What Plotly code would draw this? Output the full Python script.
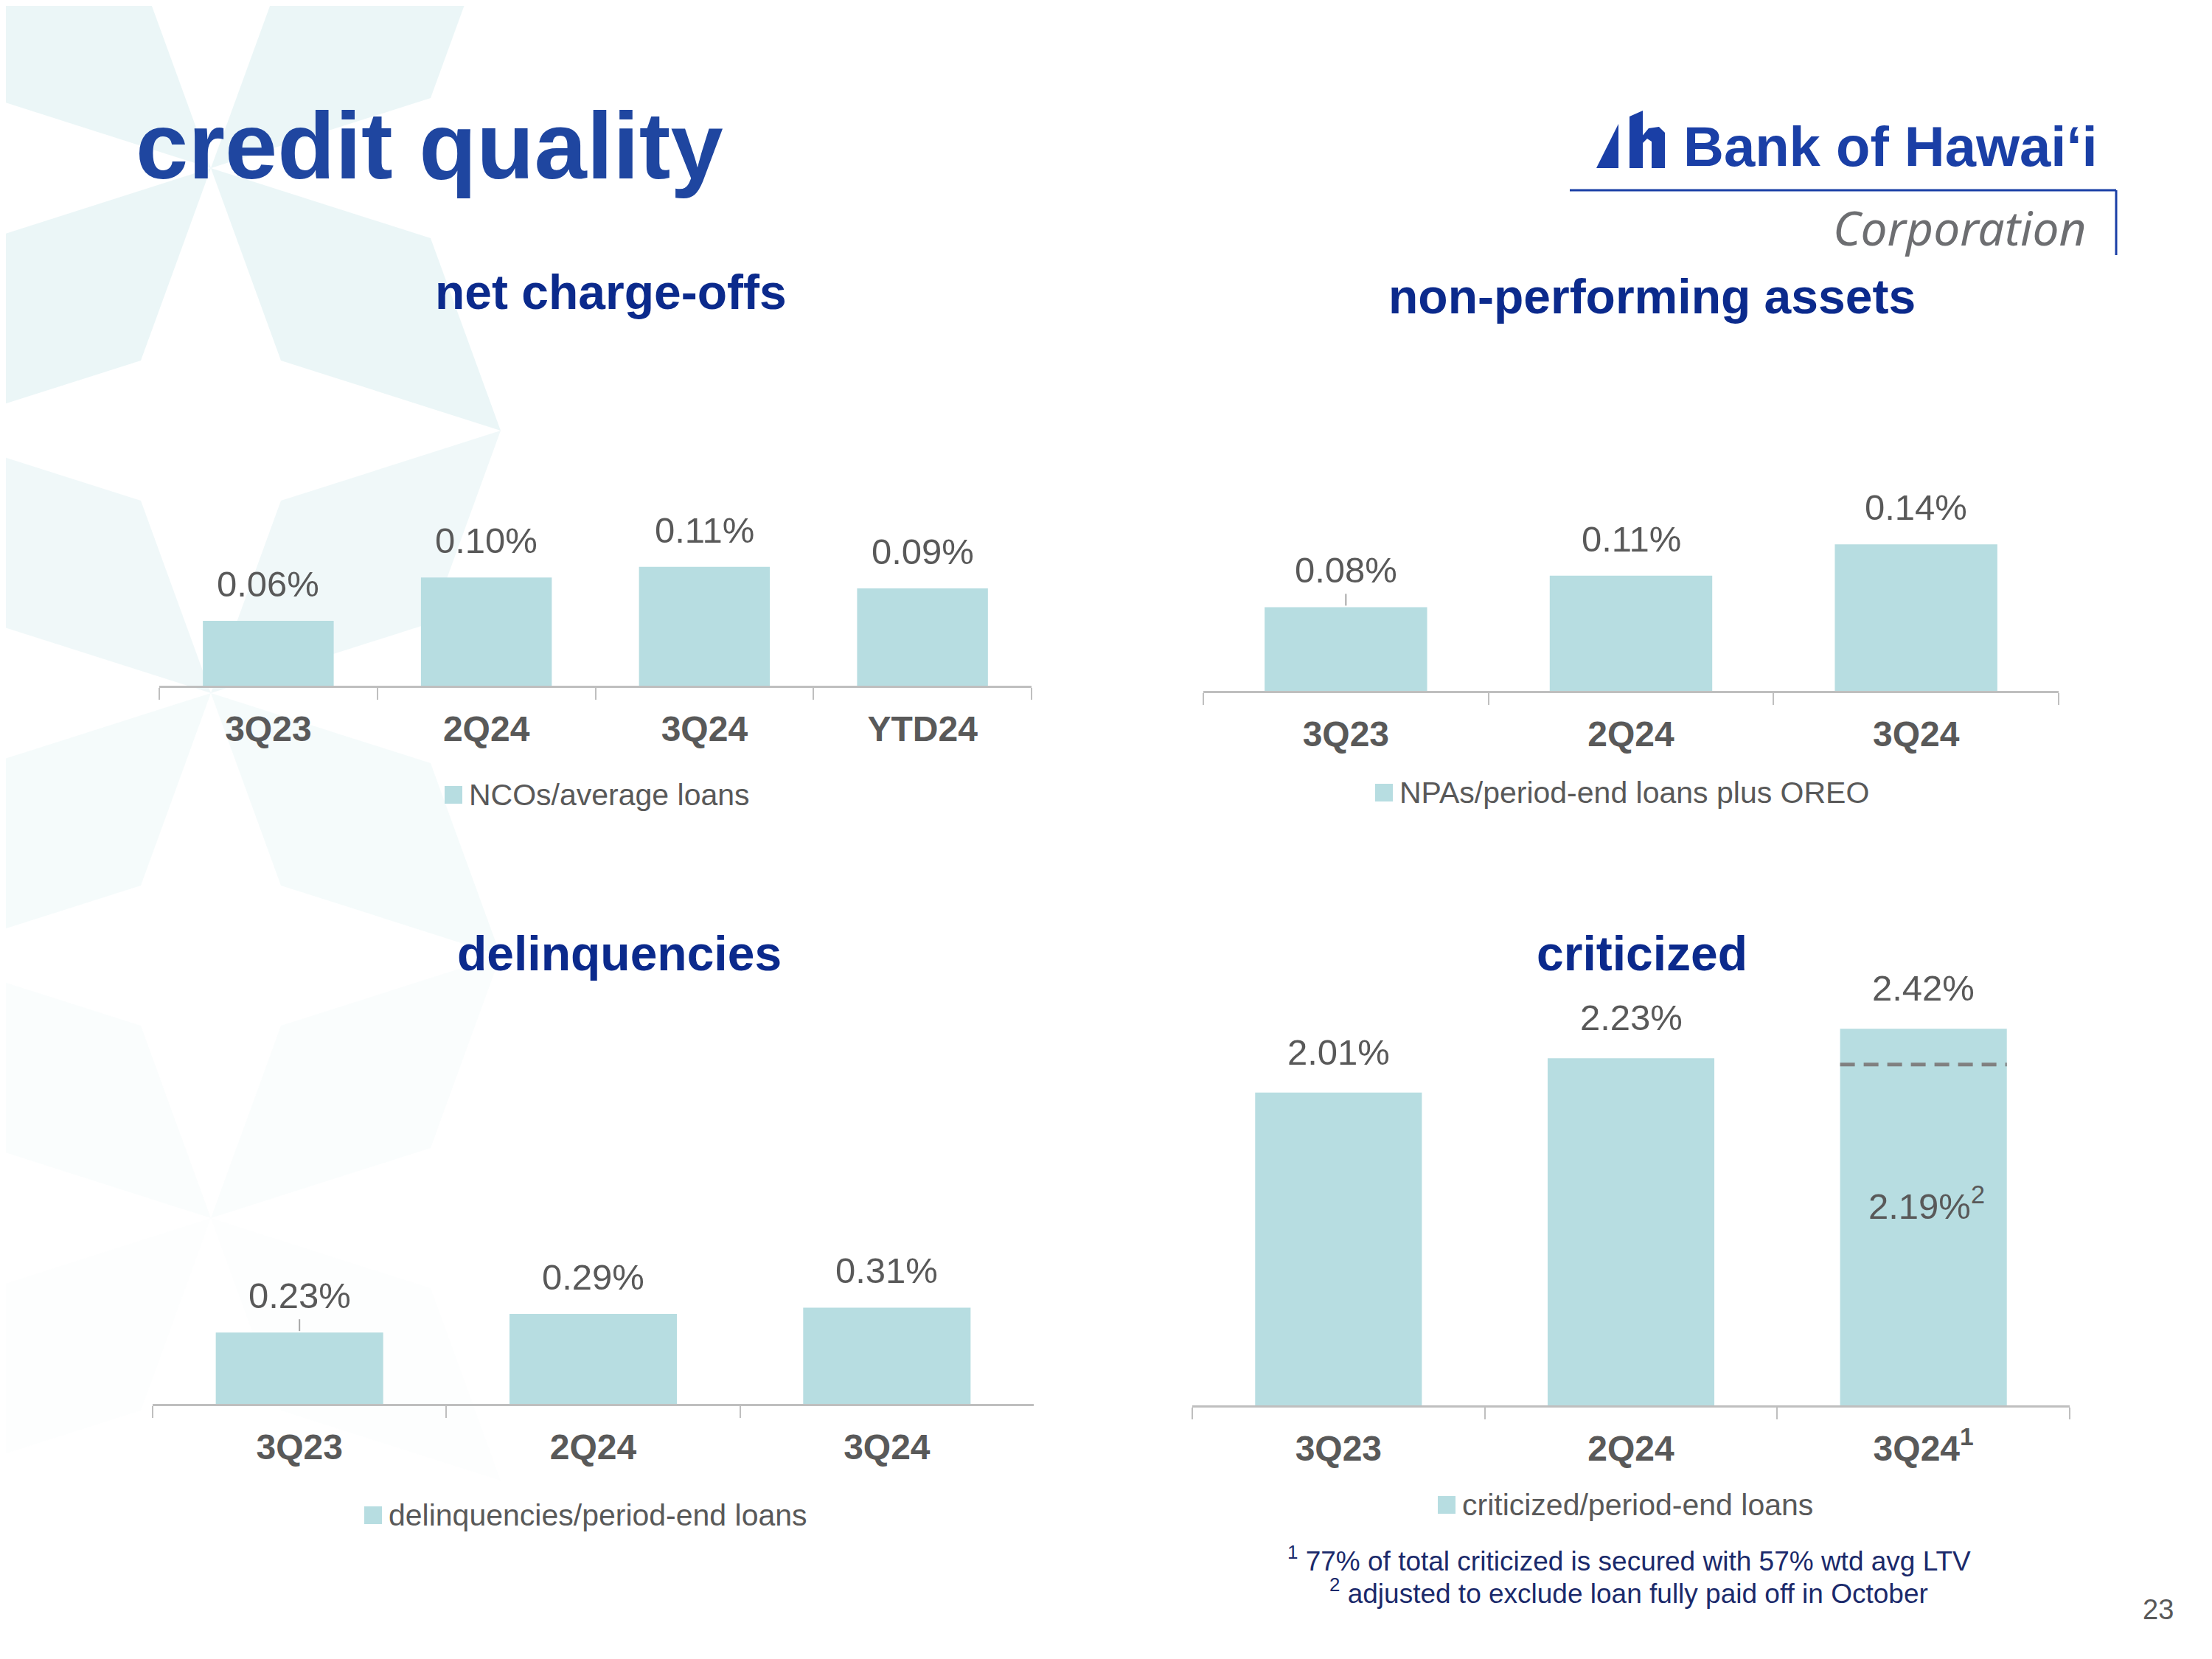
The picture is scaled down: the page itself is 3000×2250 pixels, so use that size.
import plotly.graph_objects as go

# The page adds an 8px body margin, so the figure is 8px smaller than the window
OFF = 8
W, H = 3000 - OFF, 2250 - OFF

# ---------------- data ----------------
nco_categories = ["3Q23", "2Q24", "3Q24", "YTD24"]
nco_values = [0.06, 0.10, 0.11, 0.09]
nco_legend = "NCOs/average loans"

npa_categories = ["3Q23", "2Q24", "3Q24"]
npa_values = [0.08, 0.11, 0.14]
npa_legend = "NPAs/period-end loans plus OREO"

delinq_categories = ["3Q23", "2Q24", "3Q24"]
delinq_values = [0.23, 0.29, 0.31]
delinq_legend = "delinquencies/period-end loans"

crit_categories = ["3Q23", "2Q24", "3Q24"]
crit_tick_labels = ["3Q23", "2Q24", "3Q24<sup>1</sup>"]
crit_values = [2.01, 2.23, 2.42]
crit_adjusted_value = 2.19
crit_adjusted_category = "3Q24"
crit_legend = "criticized/period-end loans"

panel_titles = ["net charge-offs", "non-performing assets", "delinquencies", "criticized"]
page_title = "credit quality"
footnote_1 = "<sup>1</sup> 77% of total criticized is secured with 57% wtd avg LTV"
footnote_2 = "<sup>2</sup> adjusted to exclude loan fully paid off in October"
page_number = "23"

# ---------------- styles ----------------
FONT = "Liberation Sans, Arial, sans-serif"
BAR = "#B7DDE1"
GREY_TXT = "#595959"
AXIS_GREY = "#BFBFBF"
NAVY = "#0B2A8C"
TITLE_BLUE = "#1F46A0"
LOGO_BLUE = "#1A3FA6"
FOOT_NAVY = "#1B2A6B"


def px(x):
    return (x - OFF) / W


def py(y):
    return 1 - (y - OFF) / H


# pixel layout (window coordinates) of each panel
panels = [
    dict(cats=nco_categories, vals=nco_values, name=nco_legend, ticktext=nco_categories,
         x0=216, x1=1399, axis=930, top=700, unit=1467, bw=0.60, lab=50,
         title_xy=(828, 396), legend_xy=(603, 1078)),
    dict(cats=npa_categories, vals=npa_values, name=npa_legend, ticktext=npa_categories,
         x0=1632, x1=2792, axis=937, top=700, unit=1420, bw=0.57, lab=50,
         title_xy=(2240, 402), legend_xy=(1865, 1075)),
    dict(cats=delinq_categories, vals=delinq_values, name=delinq_legend, ticktext=delinq_categories,
         x0=207, x1=1402, axis=1904, top=1700, unit=421, bw=0.57, lab=50,
         title_xy=(840, 1293), legend_xy=(494, 2055)),
    dict(cats=crit_categories, vals=crit_values, name=crit_legend, ticktext=crit_tick_labels,
         x0=1617, x1=2807, axis=1906, top=1380, unit=211.1, bw=0.57, lab=55,
         title_xy=(2227, 1293), legend_xy=(1950, 2041)),
]

fig = go.Figure()
annotations = []
shapes = []


def ppath(points, close=True):
    s = "M " + " L ".join(f"{px(a):.5f},{py(b):.5f}" for a, b in points)
    return s + (" Z" if close else "")


# ---------------- background diamond pattern ----------------
for (cx, cy) in [(286, 228), (286, 940), (286, 1652)]:
    for sx in (-1, 1):
        for sy in (-1, 1):
            pts = [(cx, cy), (cx + 298 * sx, cy + 95 * sy), (cx + 393 * sx, cy + 356 * sy),
                   (cx + 95 * sx, cy + 261 * sy)]
            yc = cy + 178 * sy
            a = 0.36 if yc <= 420 else max(0.03, 0.36 - 0.33 * (yc - 420) / 1250)
            shapes.append(dict(type="path", xref="paper", yref="paper", layer="below",
                               path=ppath(pts), fillcolor=f"rgba(200,230,234,{a:.3f})",
                               line=dict(width=0)))

# ---------------- panels ----------------
for i, p in enumerate(panels, start=1):
    sfx = "" if i == 1 else str(i)
    xa, ya = f"xaxis{sfx}", f"yaxis{sfx}"
    xr, yr = f"x{sfx}", f"y{sfx}"

    fig.add_trace(go.Bar(
        x=p["cats"], y=p["vals"], name=p["name"], width=p["bw"],
        marker=dict(color=BAR, line=dict(width=0)),
        xaxis=xr, yaxis=yr, showlegend=False, hoverinfo="skip",
    ))

    ymax = (p["axis"] - p["top"]) / p["unit"]
    fig.update_layout({
        xa: dict(domain=[px(p["x0"]), px(p["x1"])], anchor=yr, type="category",
                 categoryorder="array", categoryarray=p["cats"],
                 tickmode="array", tickvals=p["cats"], ticktext=p["ticktext"],
                 showline=True, linecolor=AXIS_GREY, linewidth=3,
                 ticks="outside", tickson="boundaries", ticklen=16, tickwidth=2,
                 tickcolor=AXIS_GREY, ticklabelstandoff=14,
                 tickfont=dict(family=FONT, size=48, color=GREY_TXT, weight="bold"),
                 showgrid=False, zeroline=False, fixedrange=True),
        ya: dict(domain=[py(p["axis"]), py(p["top"])], anchor=xr, range=[0, ymax],
                 visible=False, showgrid=False, zeroline=False, fixedrange=True),
    })

    for c, v in zip(p["cats"], p["vals"]):
        annotations.append(dict(x=c, y=v, xref=xr, yref=yr, text=f"{v:.2f}%",
                                showarrow=False, yanchor="middle", yshift=p["lab"],
                                font=dict(family=FONT, size=49, color=GREY_TXT)))

    tx, ty = p["title_xy"]
    annotations.append(dict(x=px(tx), y=py(ty), xref="paper", yref="paper",
                            text=panel_titles[i - 1], showarrow=False,
                            xanchor="center", yanchor="middle",
                            font=dict(family=FONT, size=66, color=NAVY, weight="bold")))

    # legend: colour swatch + series name
    lx, ly = p["legend_xy"]
    shapes.append(dict(type="rect", xref="paper", yref="paper",
                       x0=px(lx), x1=px(lx + 24), y0=py(ly + 12), y1=py(ly - 12),
                       fillcolor=BAR, line=dict(width=0)))
    annotations.append(dict(x=px(lx + 31), y=py(ly), xref="paper", yref="paper",
                            text=p["name"], showarrow=False, xanchor="left", yanchor="middle",
                            font=dict(family=FONT, size=41, color=GREY_TXT)))

# leader lines from labels to the first bar (NPA and delinquencies)
for sfx, val in [("2", npa_values[0]), ("3", delinq_values[0])]:
    shapes.append(dict(type="line", xref=f"x{sfx}", yref=f"y{sfx}", ysizemode="pixel",
                       yanchor=val, x0=0, x1=0, y0=2, y1=18,
                       line=dict(color="#A6A6A6", width=2)))

# criticized: adjusted level dashed line and label
ci = crit_categories.index(crit_adjusted_category)
half = panels[3]["bw"] / 2
shapes.append(dict(type="line", xref="x4", yref="y4", x0=ci - half, x1=ci + half,
                   y0=crit_adjusted_value, y1=crit_adjusted_value,
                   line=dict(color="#808080", width=5, dash="20px,12px")))
annotations.append(dict(x=crit_adjusted_category, y=crit_adjusted_value, xref="x4", yref="y4",
                        text=f"{crit_adjusted_value:.2f}%<sup>2</sup>", showarrow=False,
                        yanchor="middle", yshift=-188, xshift=4,
                        font=dict(family=FONT, size=49, color=GREY_TXT)))

# ---------------- page texts ----------------
annotations.append(dict(x=px(182), y=py(197), xref="paper", yref="paper", text=page_title,
                        showarrow=False, xanchor="left", yanchor="middle",
                        font=dict(family=FONT, size=128, color=TITLE_BLUE, weight="bold")))
annotations.append(dict(x=px(2209), y=py(2114), xref="paper", yref="paper", text=footnote_1,
                        showarrow=False, xanchor="center", yanchor="middle",
                        font=dict(family=FONT, size=37, color=FOOT_NAVY)))
annotations.append(dict(x=px(2209), y=py(2158), xref="paper", yref="paper", text=footnote_2,
                        showarrow=False, xanchor="center", yanchor="middle",
                        font=dict(family=FONT, size=37, color=FOOT_NAVY)))
annotations.append(dict(x=px(2927), y=py(2183), xref="paper", yref="paper", text=page_number,
                        showarrow=False, xanchor="center", yanchor="middle",
                        font=dict(family=FONT, size=38, color=GREY_TXT)))

# ---------------- logo ----------------
annotations.append(dict(x=px(2564), y=py(199), xref="paper", yref="paper",
                        text="Bank of Hawai\u02bbi", showarrow=False,
                        xanchor="center", yanchor="middle",
                        font=dict(family=FONT, size=76, color=LOGO_BLUE, weight="bold")))
annotations.append(dict(x=px(2832), y=py(308), xref="paper", yref="paper",
                        text="Corporation", showarrow=False,
                        xanchor="right", yanchor="middle",
                        font=dict(family="Noto Sans, sans-serif", size=64, color="#6D6E71",
                                  style="italic")))

shapes.append(dict(type="path", xref="paper", yref="paper",
                   path=ppath([(2165, 228), (2195, 168), (2195, 228)]),
                   fillcolor=LOGO_BLUE, line=dict(width=0)))
shapes.append(dict(type="path", xref="paper", yref="paper",
                   path=ppath([(2210, 158), (2228, 150), (2228, 228), (2210, 228)]),
                   fillcolor=LOGO_BLUE, line=dict(width=0)))
shapes.append(dict(type="path", xref="paper", yref="paper",
                   path=ppath([(2226, 186), (2236, 174), (2250, 172), (2258, 180), (2258, 228),
                               (2240, 228), (2240, 192), (2234, 188), (2226, 196)]),
                   fillcolor=LOGO_BLUE, line=dict(width=0)))
shapes.append(dict(type="line", xref="paper", yref="paper", x0=px(2129), x1=px(2870),
                   y0=py(258), y1=py(258), line=dict(color=LOGO_BLUE, width=3)))
shapes.append(dict(type="line", xref="paper", yref="paper", x0=px(2870), x1=px(2870),
                   y0=py(258), y1=py(346), line=dict(color=LOGO_BLUE, width=3)))

fig.update_layout(
    width=W, height=H, margin=dict(l=0, r=0, t=0, b=0, pad=0),
    paper_bgcolor="white", plot_bgcolor="rgba(0,0,0,0)",
    showlegend=False,
    annotations=annotations, shapes=shapes,
    font=dict(family=FONT, color=GREY_TXT),
)

fig.write_html("out.html")
